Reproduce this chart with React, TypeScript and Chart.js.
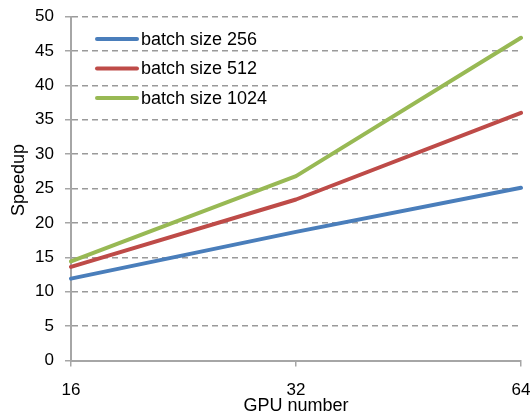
import React, { useEffect, useRef } from "react";
import { Chart, registerables } from "chart.js";

Chart.register(...registerables);

const categories = ["16", "32", "64"];
const series256 = [11.9, 18.7, 25.1];
const series512 = [13.6, 23.4, 36.0];
const series1024 = [14.4, 26.8, 46.9];
const seriesLabels = ["batch size 256", "batch size 512", "batch size 1024"];
const seriesColors = ["#4A7EBB", "#BE4B48", "#98B954"];
const yTitle = "Speedup";
const xTitle = "GPU number";
const yMin = 0;
const yMax = 50;
const yStep = 5;

const FONT = "'Liberation Sans', Arial, sans-serif";
const AXIS_GRAY = "#A6A6A6";

const legendPlugin = {
  id: "insideLegend",
  afterDraw(chart: any) {
    const ctx = chart.ctx;
    const area = chart.chartArea;
    const x0 = area.left + 26;
    const lineLen = 40;
    const y0 = area.top + 22.5;
    const rowGap = 29.5;
    ctx.save();
    chart.data.datasets.forEach((ds: any, i: number) => {
      const y = y0 + i * rowGap;
      ctx.strokeStyle = ds.borderColor;
      ctx.lineWidth = 4;
      ctx.lineCap = "round";
      ctx.beginPath();
      ctx.moveTo(x0, y);
      ctx.lineTo(x0 + lineLen, y);
      ctx.stroke();
      ctx.fillStyle = "#000";
      ctx.font = `18px ${FONT}`;
      ctx.textBaseline = "middle";
      ctx.textAlign = "left";
      ctx.fillText(ds.label, x0 + lineLen + 4, y + 1);
    });
    // y axis title (Excel places it slightly above centre)
    const midY = (area.top + area.bottom) / 2 - 8.5;
    ctx.translate(19, midY);
    ctx.rotate(-Math.PI / 2);
    ctx.fillStyle = "#000";
    ctx.font = `18px ${FONT}`;
    ctx.textAlign = "center";
    ctx.textBaseline = "middle";
    ctx.fillText(yTitle, 0, 0);
    ctx.restore();
  },
};

export default function App() {
  const ref = useRef<HTMLCanvasElement | null>(null);
  useEffect(() => {
    if (!ref.current) return;
    const data = [series256, series512, series1024];
    const chart = new Chart(ref.current, {
      type: "line",
      data: {
        labels: categories,
        datasets: data.map((d, i) => ({
          label: seriesLabels[i],
          data: d,
          borderColor: seriesColors[i],
          backgroundColor: seriesColors[i],
          borderWidth: 4,
          pointRadius: 0,
          tension: 0,
          borderCapStyle: "round" as const,
          borderJoinStyle: "round" as const,
          fill: false,
        })),
      },
      options: {
        animation: false,
        responsive: true,
        maintainAspectRatio: false,
        layout: { padding: { top: 16.5, right: 9, left: 0, bottom: 0 } },
        plugins: {
          legend: { display: false },
          tooltip: { enabled: false },
        },
        scales: {
          x: {
            type: "category",
            offset: false,
            grid: {
              drawOnChartArea: false,
              drawTicks: true,
              tickLength: 6,
              color: AXIS_GRAY,
              lineWidth: 1.5,
            },
            border: { display: true, color: AXIS_GRAY, width: 2 },
            ticks: {
              color: "#000",
              font: { family: FONT, size: 17 },
              padding: 14,
              maxRotation: 0,
              autoSkip: false,
            },
            title: {
              display: true,
              text: xTitle,
              color: "#000",
              font: { family: FONT, size: 18, lineHeight: 0.8 },
              padding: { top: 0, bottom: 0 },
            },
            afterFit(scale: any) {
              scale.height = 52.5;
              scale.paddingLeft = 0;
              scale.paddingRight = 0;
            },
          },
          y: {
            min: yMin,
            max: yMax,
            ticks: {
              stepSize: yStep,
              color: "#000",
              font: { family: FONT, size: 17 },
              padding: 11,
            },
            grid: {
              drawOnChartArea: true,
              drawTicks: true,
              tickLength: 6,
              color: "#9A9A9A",
              lineWidth: 1.5,
              tickColor: AXIS_GRAY,
              tickBorderDash: [],
            },
            border: { display: true, color: AXIS_GRAY, width: 2, dash: [6, 4] },
            title: { display: false },
            afterFit(scale: any) {
              scale.width = 71;
              scale.paddingTop = 0;
              scale.paddingBottom = 0;
            },
          },
        },
      },
      plugins: [legendPlugin],
    });
    return () => chart.destroy();
  }, []);
  return (
    <div style={{ position: "absolute", left: 0, top: 0, width: 530, height: 413 }}>
      <canvas ref={ref} />
    </div>
  );
}
